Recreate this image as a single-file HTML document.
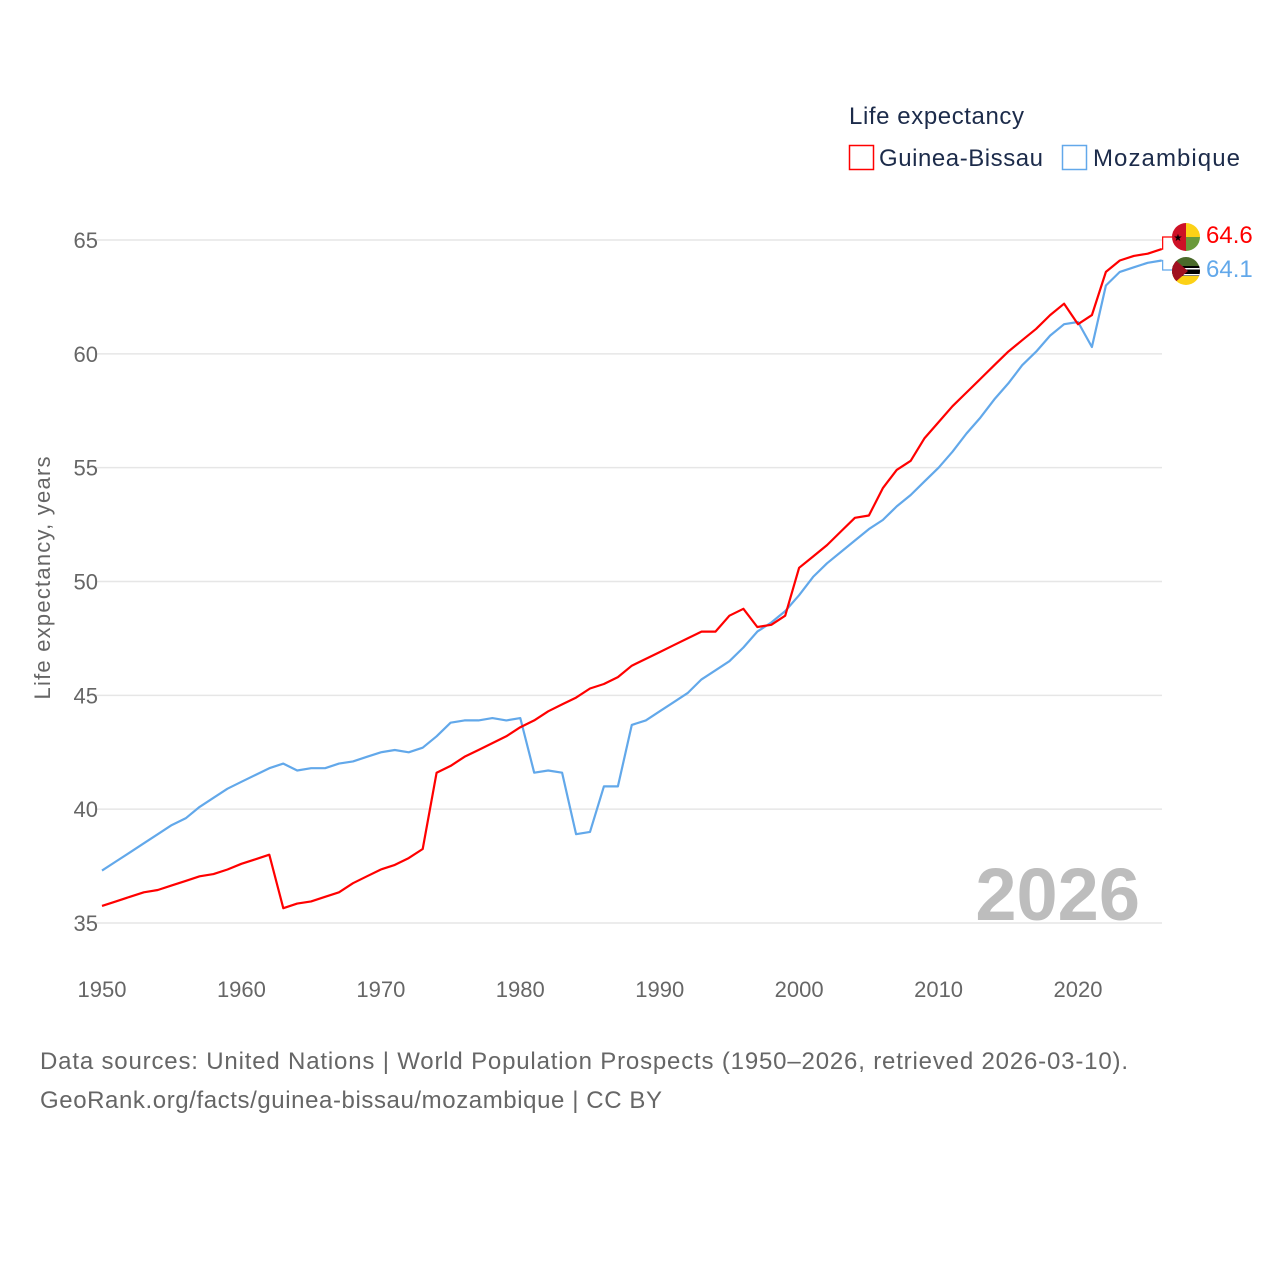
<!DOCTYPE html>
<html><head><meta charset="utf-8"><style>
body{margin:0;background:#fff;font-family:"Liberation Sans",sans-serif;}
svg text{font-family:"Liberation Sans",sans-serif;}
</style></head><body>
<svg width="1280" height="1280" viewBox="0 0 1280 1280">
<text x="849" y="124" font-size="24" fill="#1c2b4a" textLength="175">Life expectancy</text>
<g>
<rect x="849.5" y="145.5" width="24" height="24" fill="none" stroke="#f00" stroke-width="1.5"/>
<text x="879" y="166" font-size="24" fill="#1c2b4a" textLength="164">Guinea-Bissau</text></g>
<g>
<rect x="1062.5" y="145.5" width="24" height="24" fill="none" stroke="#62a8ea" stroke-width="1.5"/>
<text x="1093" y="166" font-size="24" fill="#1c2b4a" textLength="147">Mozambique</text></g>
<g id="grid"></g>
<g id="yt"></g>
<g id="xt"></g>
<text transform="translate(50,578) rotate(-90)" text-anchor="middle" font-size="22" fill="#666" textLength="243">Life expectancy, years</text>
<text x="1140" y="920" text-anchor="end" font-size="74" font-weight="bold" fill="#bdbdbd">2026</text>
<g id="lines"></g>
<g>
<g>
<clipPath id="c1"><circle cx="1186" cy="237" r="14"/></clipPath>
<g clip-path="url(#c1)"><rect x="1172" y="223" width="14" height="28" fill="#ce1126"/><rect x="1186" y="223" width="14" height="14" fill="#fcd116"/><rect x="1186" y="237" width="14" height="14" fill="#6a9a3a"/></g>
<text x="1178" y="241" font-size="10" text-anchor="middle">★</text></g>
<g>
<clipPath id="c2"><circle cx="1186" cy="271" r="14"/></clipPath>
<g clip-path="url(#c2)"><rect x="1172" y="257" width="28" height="10" fill="#4a6a2a"/><rect x="1172" y="266" width="28" height="10" fill="#000"/><rect x="1172" y="268" width="28" height="1.5" fill="#fff"/><rect x="1172" y="274" width="28" height="1.5" fill="#fff"/><rect x="1172" y="276" width="28" height="10" fill="#fcd116"/><polygon points="1172,257 1188,271 1172,285" fill="#a01020"/></g></g>
<text x="1206" y="243" font-size="24" fill="#f00">64.6</text>
<text x="1206" y="277" font-size="24" fill="#62a8ea">64.1</text>
</g>
<text x="40" y="1069" font-size="24" fill="#666" textLength="1088">Data sources: United Nations | World Population Prospects (1950–2026, retrieved 2026-03-10).</text>
<text x="40" y="1108" font-size="24" fill="#666" textLength="622">GeoRank.org/facts/guinea-bissau/mozambique | CC BY</text>
</svg>
<script>
const years=[];for(let y=1950;y<=2026;y++)years.push(y);
const guineaBissau=[35.75,35.95,36.15,36.35,36.45,36.65,36.85,37.05,37.15,37.35,37.6,37.8,38.0,35.65,35.85,35.95,36.15,36.35,36.75,37.05,37.35,37.55,37.85,38.25,41.6,41.9,42.3,42.6,42.9,43.2,43.6,43.9,44.3,44.6,44.9,45.3,45.5,45.8,46.3,46.6,46.9,47.2,47.5,47.8,47.8,48.5,48.8,48.0,48.1,48.5,50.6,51.1,51.6,52.2,52.8,52.9,54.1,54.9,55.3,56.3,57.0,57.7,58.3,58.9,59.5,60.1,60.6,61.1,61.7,62.2,61.3,61.7,63.6,64.1,64.3,64.4,64.6];
const mozambique=[37.3,37.7,38.1,38.5,38.9,39.3,39.6,40.1,40.5,40.9,41.2,41.5,41.8,42.0,41.7,41.8,41.8,42.0,42.1,42.3,42.5,42.6,42.5,42.7,43.2,43.8,43.9,43.9,44.0,43.9,44.0,41.6,41.7,41.6,38.9,39.0,41.0,41.0,43.7,43.9,44.3,44.7,45.1,45.7,46.1,46.5,47.1,47.8,48.2,48.7,49.4,50.2,50.8,51.3,51.8,52.3,52.7,53.3,53.8,54.4,55.0,55.7,56.5,57.2,58.0,58.7,59.5,60.1,60.8,61.3,61.4,60.3,63.0,63.6,63.8,64.0,64.1];
const yTicks=[35,40,45,50,55,60,65];
const xTicks=[1950,1960,1970,1980,1990,2000,2010,2020];
const X=y=>102+(y-1950)*(976/70);
const Y=v=>923-(v-35)*(683/30);
const NS='http://www.w3.org/2000/svg';
function mk(t,a,p){const e=document.createElementNS(NS,t);for(const k in a)e.setAttribute(k,a[k]);p.appendChild(e);return e;}
const grid=document.getElementById('grid'),yt=document.getElementById('yt'),xt=document.getElementById('xt'),lines=document.getElementById('lines');
yTicks.forEach(v=>{
 const l=mk('line',{x1:95,x2:1162,y1:Y(v),y2:Y(v),stroke:'#e6e6e6','stroke-width':1.5},grid);
 
 
 const t=mk('text',{x:98,y:Y(v)+8,'text-anchor':'end','font-size':22,fill:'#666'},yt);t.textContent=v;
 
 
});
xTicks.forEach(v=>{
 const t=mk('text',{x:X(v),y:997,'text-anchor':'middle','font-size':22,fill:'#666'},xt);t.textContent=v;
 
 
});
function line(vals,color,name){
 const d=vals.map((v,i)=>(i?'L':'M')+X(years[i]).toFixed(1)+','+Y(v).toFixed(1)).join('');
 const p=mk('path',{d:d,fill:'none',stroke:color,'stroke-width':2.2,'stroke-linejoin':'round'},lines);
 
 
}
line(mozambique,'#62a8ea','line-mozambique');
line(guineaBissau,'#ff0000','line-guinea-bissau');
const lx=X(2026),gy=Y(guineaBissau[guineaBissau.length-1]),my=Y(mozambique[mozambique.length-1]);
const c1=mk('path',{d:`M${lx},${gy}H${lx+1}V237H1172`,fill:'none',stroke:'#f00','stroke-width':1.2},lines);


const c2=mk('path',{d:`M${lx},${my}H${lx+1}V270H1172`,fill:'none',stroke:'#62a8ea','stroke-width':1.2},lines);


</script>
</body></html>
